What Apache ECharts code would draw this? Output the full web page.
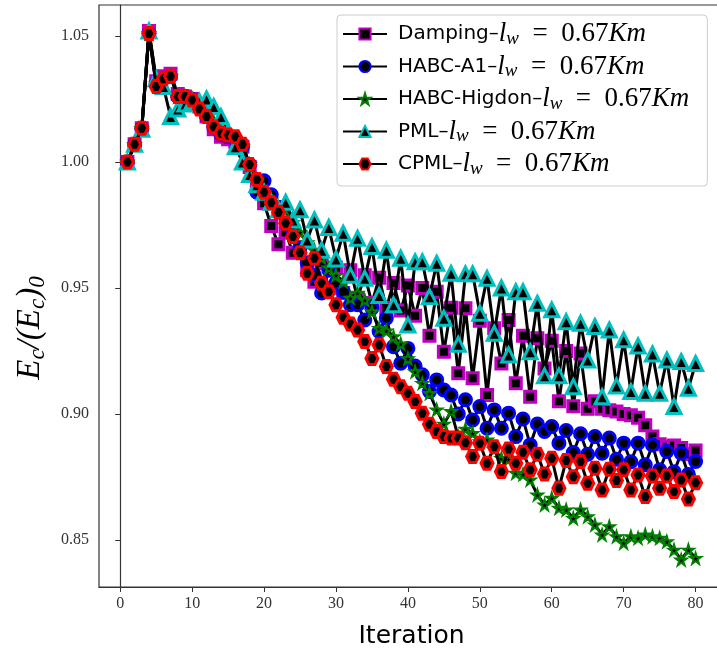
<!DOCTYPE html>
<html>
<head>
<meta charset="utf-8">
<script src="https://cdn.jsdelivr.net/npm/echarts@6/dist/echarts.min.js"></script>
<style>html,body{margin:0;padding:0;background:#fff}#c{width:717px;height:651px}</style>
</head>
<body>
<div id="c"></div>
<script>
const iterations = Array.from({length: 80}, (_, i) => i + 1);
const xTicks = [0, 10, 20, 30, 40, 50, 60, 70, 80];
const yTicks = [0.85, 0.90, 0.95, 1.00, 1.05];

const damping = [1.000,1.007,1.0134,1.052,1.032,1.034,1.035,1.027,1.026,1.025,
1.022,1.018,1.013,1.010,1.009,1.008,1.006,0.998,0.990,0.9836,
0.9746,0.9673,0.972,0.964,0.966,0.957,0.9525,0.960,0.950,0.958,
0.948,0.957,0.946,0.955,0.944,0.954,0.942,0.952,0.941,0.951,
0.939,0.950,0.931,0.9485,0.9247,0.9421,0.9161,0.9419,0.9142,0.937,
0.9075,0.934,0.920,0.9373,0.9122,0.931,0.9068,0.930,0.918,0.929,
0.905,0.925,0.903,0.924,0.902,0.905,0.902,0.9015,0.901,0.900,
0.8995,0.8985,0.8955,0.891,0.888,0.887,0.8875,0.8865,0.884,0.8855];

const habcA1 = [1.000,1.007,1.0134,1.051,1.031,1.033,1.034,1.026,1.026,1.025,
1.022,1.018,1.014,1.011,1.010,1.009,1.006,0.999,0.988,0.9925,
0.987,0.982,0.978,0.972,0.966,0.960,0.955,0.948,0.957,0.952,
0.9485,0.9433,0.9433,0.9373,0.942,0.9327,0.938,0.9267,0.9201,0.926,
0.919,0.9155,0.9089,0.9135,0.9095,0.9075,0.900,0.9056,0.8976,0.9029,
0.8943,0.9016,0.8943,0.9003,0.891,0.898,0.8877,0.896,0.893,0.895,
0.8884,0.8934,0.8847,0.8921,0.884,0.891,0.8844,0.8904,0.882,0.8884,
0.881,0.8884,0.8798,0.8877,0.8778,0.8851,0.877,0.8844,0.876,0.8811];

const habcHigdon = [1.000,1.007,1.0134,1.051,1.031,1.033,1.034,1.026,1.026,1.025,
1.023,1.020,1.016,1.013,1.011,1.009,1.006,0.999,0.993,0.988,
0.985,0.982,0.979,0.976,0.972,0.968,0.965,0.962,0.958,0.955,
0.9525,0.946,0.948,0.9452,0.9406,0.934,0.933,0.9307,0.9278,0.922,
0.9168,0.9122,0.9082,0.9016,0.896,0.901,0.891,0.894,0.8923,0.889,
0.8897,0.886,0.8824,0.882,0.8765,0.876,0.8738,0.8679,0.8639,0.8666,
0.8626,0.8619,0.8586,0.8619,0.8593,0.856,0.852,0.8553,0.8513,0.8487,
0.8513,0.8507,0.852,0.8513,0.8507,0.8493,0.846,0.8421,0.846,0.8427];

const pml = [1.000,1.007,1.013,1.052,1.033,1.030,1.018,1.021,1.023,1.024,
1.024,1.025,1.022,1.018,1.012,1.006,1.000,0.995,0.991,0.988,
0.984,0.981,0.984,0.977,0.981,0.969,0.977,0.965,0.974,0.9615,
0.9717,0.955,0.9697,0.9538,0.9664,0.947,0.965,0.9433,0.9618,0.9353,
0.9604,0.9604,0.9465,0.9598,0.938,0.9558,0.9276,0.9556,0.9556,0.940,
0.9538,0.932,0.950,0.9234,0.9485,0.9485,0.9247,0.9439,0.9151,0.9413,
0.9151,0.9366,0.9108,0.936,0.9214,0.9347,0.9068,0.9333,0.9111,0.9294,
0.9089,0.927,0.9082,0.9238,0.9082,0.9214,0.9029,0.9208,0.9102,0.920];

const cpml = [1.000,1.007,1.0134,1.051,1.030,1.033,1.034,1.026,1.026,1.0246,
1.021,1.018,1.014,1.0114,1.0107,1.010,1.007,0.999,0.993,0.988,
0.9838,0.980,0.9757,0.9704,0.964,0.9558,0.9618,0.9519,0.9485,0.9433,
0.9384,0.9357,0.9333,0.9287,0.922,0.9274,0.9188,0.9138,0.9108,0.9082,
0.9049,0.9003,0.8959,0.893,0.891,0.8904,0.8904,0.8886,0.8831,0.8884,
0.8804,0.887,0.8771,0.8861,0.8804,0.8848,0.8778,0.884,0.8762,0.8824,
0.8705,0.8815,0.8751,0.8811,0.8725,0.8784,0.8698,0.878,0.8736,0.8778,
0.8698,0.8758,0.8672,0.8754,0.8705,0.8754,0.8692,0.8738,0.8662,0.8727];

const seriesNames = ['Damping', 'HABC-A1', 'HABC-Higdon', 'PML', 'CPML'];

const STAR = 'path://M0,-10 L2.245,-3.09 L9.511,-3.09 L3.633,1.18 L5.878,8.09 L0,3.82 L-5.878,8.09 L-3.633,1.18 L-9.511,-3.09 L-2.245,-3.09 Z';
const HEX = 'path://M0,5 L2.887,0 L8.66,0 L11.547,5 L8.66,10 L2.887,10 Z';

function pairs(arr) { return arr.map((v, i) => [iterations[i], v]); }

const styles = [
  {data: damping, symbol: 'rect', size: 11, bw: 3, color: '#bf00bf'},
  {data: habcA1, symbol: 'circle', size: 12, bw: 3, color: '#0000ff'},
  {data: habcHigdon, symbol: STAR, size: 11, bw: 2, color: '#008000'},
  {data: pml, symbol: 'triangle', size: 14, bw: 3, color: '#00bfbf'},
  {data: cpml, symbol: HEX, size: 12, bw: 3, color: '#ff0000'}
];

const chart = echarts.init(document.getElementById('c'), null, {renderer: 'canvas'});

const series = styles.map((s, k) => ({
  name: seriesNames[k],
  type: 'line',
  data: pairs(s.data),
  symbol: s.symbol,
  symbolSize: s.size,
  showAllSymbol: true,
  animation: false,
  lineStyle: {color: '#000', width: 3},
  itemStyle: {color: '#000', borderColor: s.color, borderWidth: s.bw},
  z: 2 + k
}));

const mathRich = {
  m: {fontFamily: 'Liberation Serif', fontStyle: 'italic', fontSize: 27, color: '#000'},
  s: {fontFamily: 'Liberation Serif', fontStyle: 'italic', fontSize: 19, color: '#000', verticalAlign: 'bottom', padding: [12, 0, 0, 0]},
  r: {fontFamily: 'Liberation Serif', fontSize: 27, color: '#000'},
  t: {fontFamily: 'DejaVu Sans', fontSize: 20, color: '#000', padding: [0, 0, 0, 6]}
};

const yRich = {
  m: {fontFamily: 'Liberation Serif', fontStyle: 'italic', fontSize: 33, color: '#000'},
  s: {fontFamily: 'Liberation Serif', fontStyle: 'italic', fontSize: 23, color: '#000', verticalAlign: 'bottom', padding: [15, 0, 0, 0]}
};

chart.setOption({
  backgroundColor: '#fff',
  animation: false,
  grid: {left: 99, right: -7, top: 5, bottom: 64, outerBoundsMode: 'none', containLabel: false, show: true, borderColor: '#333', borderWidth: 1.2, backgroundColor: 'transparent'},
  graphic: [{
    type: 'text',
    x: 30,
    y: 328,
    rotation: Math.PI / 2,
    style: {
      text: '{m|E}{s|c}{m|/(}{m|E}{s|c}{m|)}{s|0}',
      rich: yRich,
      align: 'center',
      verticalAlign: 'middle'
    }
  }],
  legend: {
    orient: 'vertical',
    left: 337,
    top: 15,
    itemWidth: 44,
    itemHeight: 14,
    itemGap: 4.5,
    padding: [5, 18, 8, 5],
    backgroundColor: 'rgba(255,255,255,0.85)',
    borderColor: '#cccccc',
    borderWidth: 1,
    borderRadius: 4,
    data: seriesNames,
    formatter: name => '{t|' + name + '–}{m|l}{s|w}{r|\u2002=\u20020.67}{m|Km}',
    textStyle: {rich: mathRich, fontSize: 20, fontFamily: 'DejaVu Sans', lineHeight: 28}
  },
  xAxis: {
    type: 'value',
    min: -2.95,
    max: 83.95,
    name: 'Iteration',
    nameLocation: 'middle',
    nameGap: 37,
    nameTextStyle: {fontFamily: 'DejaVu Sans', fontSize: 25, color: '#000'},
    axisLine: {show: true, lineStyle: {color: '#333', width: 1.2}},
    axisTick: {show: true, length: 5, lineStyle: {color: '#333'}, customValues: xTicks},
    axisLabel: {fontFamily: 'Liberation Serif', fontSize: 16, color: '#333', margin: 9, customValues: xTicks},
    splitLine: {show: false}
  },
  yAxis: {
    type: 'value',
    min: 0.8313,
    max: 1.0623,
    axisLine: {show: true, lineStyle: {color: '#333', width: 1.2}},
    axisTick: {show: true, length: 5, lineStyle: {color: '#333'}, customValues: yTicks},
    axisLabel: {fontFamily: 'Liberation Serif', fontSize: 16, color: '#333', margin: 10, customValues: yTicks, formatter: v => v.toFixed(2)},
    splitLine: {show: false}
  },
  series: series
});
</script>
</body>
</html>
